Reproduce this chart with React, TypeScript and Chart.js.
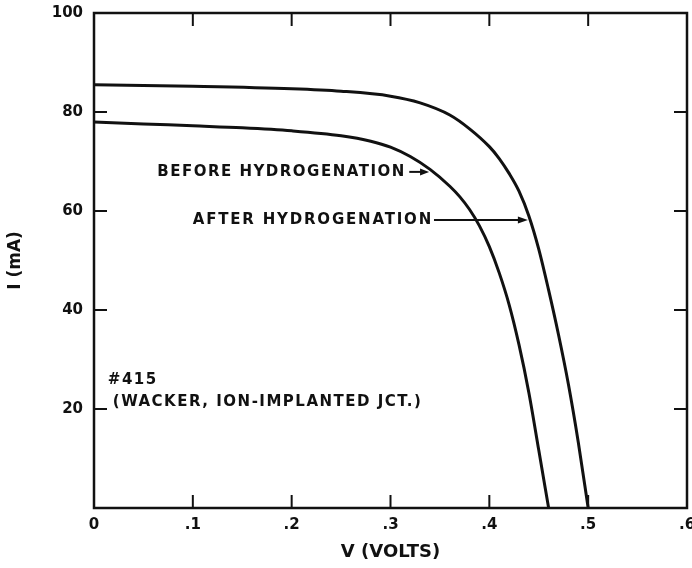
import React, { useEffect, useRef } from 'react';
import { Chart, registerables } from 'chart.js';
Chart.register(...registerables);

// ---- data ----
const voltsAfter = [0, 0.1, 0.2, 0.25, 0.3, 0.33, 0.36, 0.38, 0.4, 0.41, 0.42, 0.43, 0.44, 0.45, 0.46, 0.47, 0.48, 0.49, 0.5];
const currentAfter = [85.5, 85.2, 84.7, 84.2, 83.2, 81.85, 79.4, 76.6, 73.0, 70.6, 67.6, 64.0, 59.0, 52.3, 44.0, 35.0, 25.0, 13.3, 0];

const voltsBefore = [0, 0.05, 0.1, 0.15, 0.2, 0.25, 0.28, 0.3, 0.32, 0.34, 0.36, 0.37, 0.38, 0.39, 0.4, 0.41, 0.42, 0.43, 0.44, 0.45, 0.46];
const currentBefore = [78, 77.6, 77.2, 76.8, 76.2, 75.2, 74.1, 72.9, 71.0, 68.4, 65.0, 62.9, 60.3, 57.0, 52.8, 47.5, 41.1, 33.0, 23.3, 11.7, 0];

const xTicks = [0, 0.1, 0.2, 0.3, 0.4, 0.5, 0.6];
const xTickLabels = ['0', '.1', '.2', '.3', '.4', '.5', '.6'];
const yTicks = [20, 40, 60, 80, 100];

const xTitle = 'V (VOLTS)';
const yTitle = 'I (mA)';

// annotations in data coordinates
const labelBefore = { text: 'BEFORE HYDROGENATION', v: 0.064, i: 67.9, arrowFrom: 0.319, arrowTo: 0.339, spacing: 1.5 };
const labelAfter = { text: 'AFTER HYDROGENATION', v: 0.1, i: 58.2, arrowFrom: 0.344, arrowTo: 0.439, spacing: 1.8 };
const noteLines = [
  { text: '#415', v: 0.014, i: 25.9 },
  { text: '(WACKER, ION-IMPLANTED JCT.)', v: 0.019, i: 21.4 },
];

const INK = '#111111';
const FONT = '"DejaVu Sans", sans-serif';

function toPoints(xs: number[], ys: number[]) {
  return xs.map((x, k) => ({ x, y: ys[k] }));
}

const decorPlugin = {
  id: 'decor',
  afterDatasetsDraw(chart: any) {
    const { ctx, chartArea: a } = chart;
    const xs = chart.scales.x;
    const ys = chart.scales.y;
    ctx.save();
    ctx.strokeStyle = INK;
    ctx.fillStyle = INK;
    ctx.lineCap = 'butt';

    // frame
    ctx.lineWidth = 2.5;
    ctx.strokeRect(a.left, a.top, a.right - a.left, a.bottom - a.top);

    // inner ticks on all sides
    const tl = 13;
    ctx.lineWidth = 2;
    const seg = (x1: number, y1: number, x2: number, y2: number) => {
      ctx.beginPath();
      ctx.moveTo(x1, y1);
      ctx.lineTo(x2, y2);
      ctx.stroke();
    };
    xTicks.forEach((v) => {
      if (v <= xs.min || v >= xs.max) return;
      const px = xs.getPixelForValue(v);
      seg(px, a.bottom, px, a.bottom - tl);
      seg(px, a.top, px, a.top + tl);
    });
    yTicks.forEach((v) => {
      if (v <= ys.min || v >= ys.max) return;
      const py = ys.getPixelForValue(v);
      seg(a.left, py, a.left + tl, py);
      seg(a.right, py, a.right - tl, py);
    });

    // texts
    ctx.font = `bold 15px ${FONT}`;
    ctx.textBaseline = 'middle';
    ctx.textAlign = 'left';

    const arrow = (lab: any, head: number) => {
      const y = ys.getPixelForValue(lab.i);
      (ctx as any).letterSpacing = lab.spacing + 'px';
      ctx.fillText(lab.text, xs.getPixelForValue(lab.v), y);
      const x1 = xs.getPixelForValue(lab.arrowFrom);
      const x2 = xs.getPixelForValue(lab.arrowTo);
      ctx.lineWidth = 2;
      seg(x1, y, x2 - head + 1, y);
      ctx.beginPath();
      ctx.moveTo(x2, y);
      ctx.lineTo(x2 - head, y - 3.5);
      ctx.lineTo(x2 - head, y + 3.5);
      ctx.closePath();
      ctx.fill();
    };
    arrow(labelBefore, 9);
    arrow(labelAfter, 10);

    (ctx as any).letterSpacing = '1.5px';
    noteLines.forEach((n) => {
      ctx.fillText(n.text, xs.getPixelForValue(n.v), ys.getPixelForValue(n.i));
    });
    ctx.restore();
  },
};

export default function App() {
  const ref = useRef<HTMLCanvasElement | null>(null);
  useEffect(() => {
    if (!ref.current) return;
    const chart = new Chart(ref.current, {
      type: 'line',
      data: {
        datasets: [
          {
            label: 'After hydrogenation',
            data: toPoints(voltsAfter, currentAfter),
            borderColor: INK,
            borderWidth: 3,
            pointRadius: 0,
            fill: false,
            cubicInterpolationMode: 'monotone',
          },
          {
            label: 'Before hydrogenation',
            data: toPoints(voltsBefore, currentBefore),
            borderColor: INK,
            borderWidth: 3,
            pointRadius: 0,
            fill: false,
            cubicInterpolationMode: 'monotone',
          },
        ],
      },
      options: {
        responsive: false,
        animation: false,
        layout: { padding: { top: 13, right: 5, left: 0, bottom: 0 } },
        plugins: { legend: { display: false }, tooltip: { enabled: false } },
        scales: {
          x: {
            type: 'linear',
            min: 0,
            max: 0.6,
            grid: { display: false, drawTicks: false },
            border: { display: false },
            afterBuildTicks: (s: any) => {
              s.ticks = xTicks.map((v) => ({ value: v }));
            },
            afterFit: (s: any) => {
              s.height = 60;
              s.paddingLeft = 0;
              s.paddingRight = 0;
            },
            ticks: {
              color: INK,
              font: { family: FONT, size: 15, weight: 'bold' },
              padding: 8,
              maxRotation: 0,
              autoSkip: false,
              callback: (v: any) => {
                const k = xTicks.findIndex((t) => Math.abs(t - Number(v)) < 1e-9);
                return k >= 0 ? xTickLabels[k] : '';
              },
            },
            title: {
              display: true,
              text: xTitle,
              color: INK,
              font: { family: FONT, size: 18, weight: 'bold' },
              padding: 5,
            },
          },
          y: {
            type: 'linear',
            min: 0,
            max: 100,
            grid: { display: false, drawTicks: false },
            border: { display: false },
            afterBuildTicks: (s: any) => {
              s.ticks = yTicks.map((v) => ({ value: v }));
            },
            afterFit: (s: any) => {
              s.width = 94;
              s.paddingTop = 0;
              s.paddingBottom = 0;
            },
            ticks: {
              color: INK,
              font: { family: FONT, size: 15, weight: 'bold' },
              padding: 11,
              autoSkip: false,
              callback: (v: any) => String(v),
            },
            title: {
              display: true,
              text: yTitle,
              color: INK,
              font: { family: FONT, size: 17, weight: 'bold' },
              padding: 5,
            },
          },
        },
      },
      plugins: [decorPlugin],
    } as any);
    return () => chart.destroy();
  }, []);
  return (
    <div style={{ position: 'absolute', left: 0, top: 0, width: 692, height: 568, background: '#fff' }}>
      <canvas ref={ref} width={692} height={568} />
    </div>
  );
}
